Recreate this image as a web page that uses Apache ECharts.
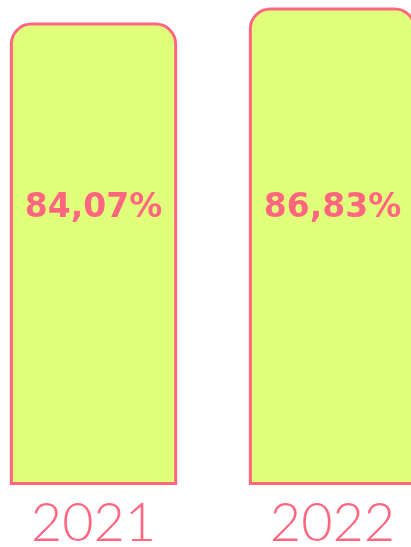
<!DOCTYPE html>
<html>
<head>
<meta charset="utf-8">
<script src="https://cdn.jsdelivr.net/npm/echarts@6/dist/echarts.min.js"></script>
<style>
  html, body { margin: 0; padding: 0; background: #fff; }
  #myChart { width: 411px; height: 547px; }
</style>
</head>
<body>
<div id="myChart"></div>
<script>
// data
const years = ['2021', '2022']
const rates = [84.07, 86.83]

const pink = '#ff6680'
const lime = '#e0ff7a'

const chart = echarts.init(document.getElementById('myChart'))
chart.setOption({
  animation: false,
  grid: {
    left: -26,
    right: -41,
    top: -65,
    bottom: 62,
    containLabel: false,
    outerBoundsMode: 'none'
  },
  xAxis: {
    type: 'category',
    data: years,
    axisLine: { show: false },
    axisTick: { show: false },
    axisLabel: {
      color: pink,
      fontFamily: 'Lato',
      fontWeight: 300,
      fontSize: 54,
      margin: 12
    }
  },
  yAxis: {
    type: 'value',
    min: 0,
    max: 100,
    show: false
  },
  series: [
    {
      type: 'bar',
      data: rates,
      barCategoryGap: '30%',
      itemStyle: {
        color: lime,
        borderColor: pink,
        borderWidth: 3,
        borderRadius: [20, 20, 0, 0]
      },
      label: {
        show: true,
        position: 'insideBottom',
        distance: 0,
        verticalAlign: 'middle',
        offset: [0, -277],
        color: pink,
        fontFamily: 'DejaVu Sans',
        fontWeight: 'bold',
        fontSize: 33,
        formatter: p => p.value.toFixed(2).replace('.', ',') + '%'
      }
    }
  ]
})
</script>
</body>
</html>
